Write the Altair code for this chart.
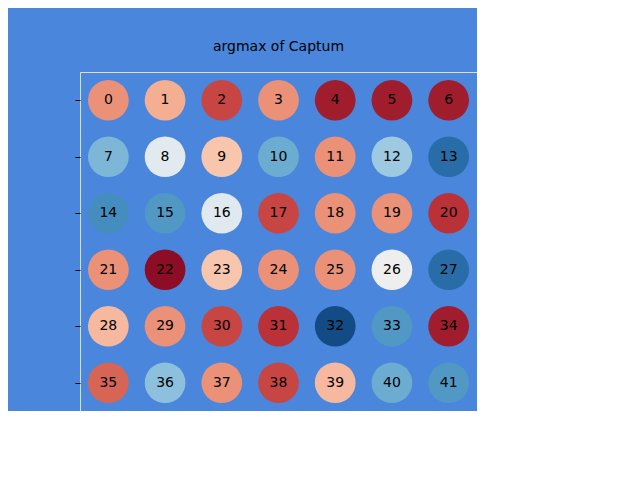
import altair as alt
import pandas as pd

# values (RdBu, -1..1)
values = [-0.5, -0.4, -0.75, -0.5, -0.92, -0.92, -0.92,
          0.5, 0.1, -0.3, 0.55, -0.5, 0.4, 0.85,
          0.7, 0.65, 0.12, -0.75, -0.5, -0.5, -0.82,
          -0.5, -1.0, -0.3, -0.5, -0.5, 0.02, 0.85,
          -0.35, -0.5, -0.75, -0.82, 1.0, 0.65, -0.92,
          -0.65, 0.45, -0.5, -0.75, -0.35, 0.55, 0.65]
n_cols = 7
labels = [str(i) for i in range(len(values))]

df = pd.DataFrame({
    'label': labels,
    'value': values,
    'col': [i % n_cols for i in range(len(values))],
    'row': [i // n_cols for i in range(len(values))],
})

bg = '#4a86dc'
x = alt.X('col:Q', scale=alt.Scale(domain=[-0.5, 6.5], nice=False, zero=False),
          axis=alt.Axis(values=list(range(7)), labels=False, grid=False, domain=False,
                        ticks=True, tickColor='black', tickSize=5, title=None))
y = alt.Y('row:Q', scale=alt.Scale(domain=[5.5, -0.5], nice=False, zero=False),
          axis=alt.Axis(values=list(range(6)), labels=False, grid=False, domain=False,
                        ticks=True, tickColor='black', tickSize=5, title=None))

circles = alt.Chart(df).mark_circle(size=1660, opacity=1).encode(
    x=x, y=y,
    color=alt.Color('value:Q', scale=alt.Scale(scheme='redblue', domain=[-1, 1]),
                    legend=alt.Legend(title='Value', orient='none', legendX=422, legendY=-14,
                                      gradientLength=369, gradientThickness=18,
                                      values=[-1, -0.75, -0.5, -0.25, 0, 0.25, 0.5, 0.75, 1],
                                      format='.2f', titleOrient='right',
                                      titleFontWeight='normal', titleFontSize=11,
                                      labelFontSize=11, labelColor='black', titleColor='black',
                                      gradientStrokeColor='black', gradientStrokeWidth=1)),
)

text = alt.Chart(df).mark_text(fontSize=14, color='black', font='DejaVu Sans').encode(
    x=x, y=y, text='label:N')

chart = (circles + text).properties(
    width=397, height=339,
    title=alt.Title('argmax of Captum', fontSize=14, fontWeight='normal',
                    font='DejaVu Sans', color='black'),
    background=bg,
    autosize=alt.AutoSizeParams(type='none'),
    padding={'left': 72, 'top': 64, 'right': 0, 'bottom': 0},
).configure_view(fill=bg, stroke='black', strokeWidth=1
).configure(font='DejaVu Sans')

chart.save("out.html", embed_options={"renderer": "svg", "actions": False})
